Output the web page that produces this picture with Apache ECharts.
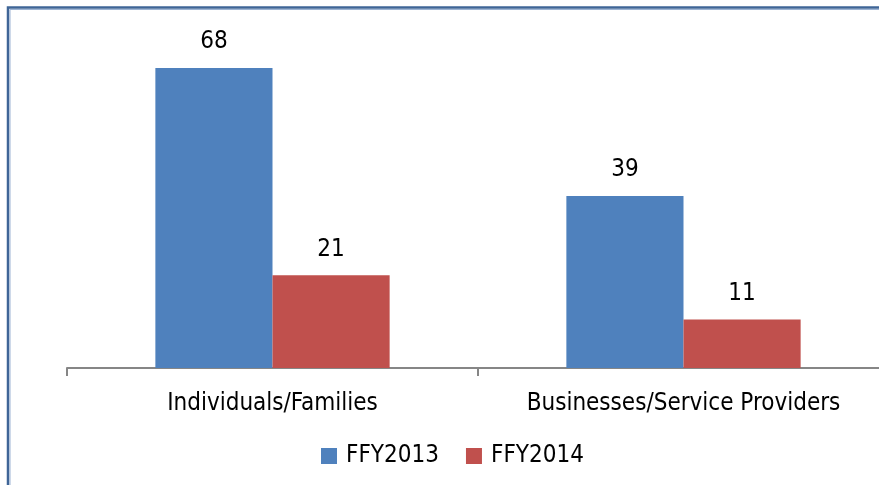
<!DOCTYPE html>
<html>
<head>
<meta charset="utf-8">
<script src="https://cdn.jsdelivr.net/npm/echarts@6/dist/echarts.min.js"></script>
<style>
  html, body { margin: 0; padding: 0; background: #ffffff; }
  #chart { width: 879px; height: 485px; }
</style>
</head>
<body>
<div id="chart"></div>
<script>
// Recipients by category, two fiscal years
const categories = ['Individuals/Families', 'Businesses/Service Providers'];
const seriesNames = ['FFY2013', 'FFY2014'];
const ffy2013 = [68, 39];
const ffy2014 = [21, 11];

const FONT = '"DejaVu Sans Condensed", "Liberation Sans Narrow", sans-serif';

const chart = echarts.init(document.getElementById('chart'), null, { renderer: 'canvas' });

chart.setOption({
  animation: false,
  backgroundColor: '#ffffff',
  grid: { left: 67, width: 822, top: 15, bottom: 117, containLabel: false, outerBoundsMode: 'none' },
  xAxis: {
    type: 'category',
    data: categories,
    axisLine: { show: true, lineStyle: { color: '#868686', width: 2 } },
    axisTick: { show: true, alignWithLabel: false, length: 8, lineStyle: { color: '#868686', width: 2 } },
    axisLabel: { color: '#000000', fontFamily: FONT, fontSize: 24, margin: 24, interval: 0 }
  },
  yAxis: {
    type: 'value',
    min: 0,
    max: 80,
    show: false,
    splitLine: { show: false }
  },
  legend: {
    data: seriesNames,
    left: 316,
    top: 439,
    icon: 'rect',
    itemWidth: 16,
    itemHeight: 16,
    itemGap: 27,
    textStyle: { color: '#000000', fontFamily: FONT, fontSize: 24, padding: [0, 0, 0, 4] }
  },
  series: [
    {
      name: seriesNames[0],
      type: 'bar',
      data: ffy2013,
      barGap: '0%',
      barCategoryGap: '43%',
      itemStyle: { color: '#4f81bd' },
      label: { show: true, position: 'top', distance: 14, color: '#000000', fontFamily: FONT, fontSize: 24 }
    },
    {
      name: seriesNames[1],
      type: 'bar',
      data: ffy2014,
      barGap: '0%',
      barCategoryGap: '43%',
      itemStyle: { color: '#c0504d' },
      label: { show: true, position: 'top', distance: 14, color: '#000000', fontFamily: FONT, fontSize: 24 }
    }
  ],
  graphic: [
    {
      type: 'rect',
      silent: true,
      shape: { x: 8, y: 7.5, width: 900, height: 500 },
      style: { fill: 'none', stroke: '#3f6597', lineWidth: 2.5 }
    },
    {
      type: 'rect',
      silent: true,
      shape: { x: 10, y: 9.5, width: 900, height: 500 },
      style: { fill: 'none', stroke: '#9db4d4', lineWidth: 1 }
    }
  ]
});
</script>
</body>
</html>
